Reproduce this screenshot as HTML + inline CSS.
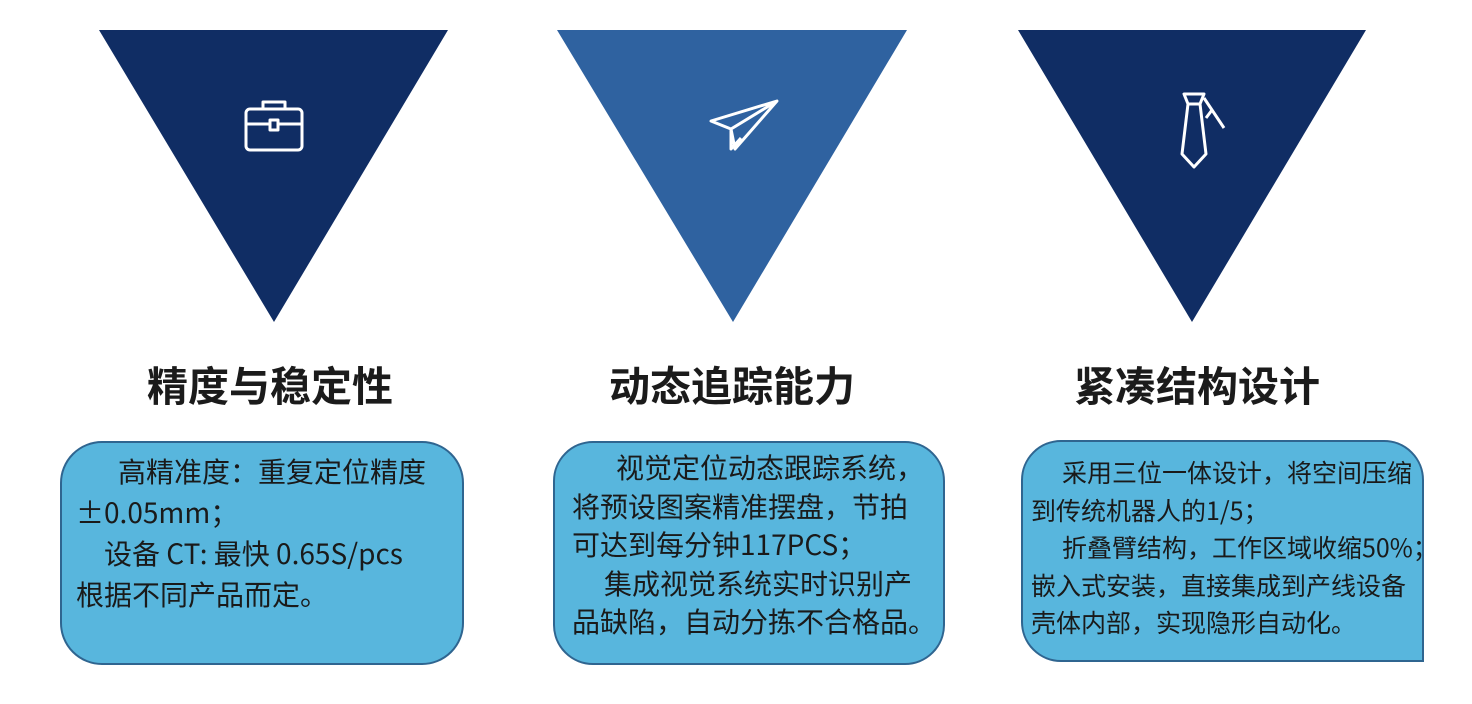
<!DOCTYPE html>
<html><head><meta charset="utf-8"><style>
body{margin:0;width:1472px;height:704px;background:#fff;position:relative;overflow:hidden;font-family:"Liberation Sans","Noto Sans CJK SC",sans-serif;}
.t{position:absolute;font-weight:bold;font-size:41px;line-height:50px;color:#1b1b1b;white-space:nowrap;font-family:"Noto Sans CJK SC",sans-serif}
.box{position:absolute;background:#58b6dd;border:2px solid #2f6590;box-sizing:border-box}
.l{position:absolute;white-space:nowrap;color:#1a1a1a;font-family:"Noto Sans CJK SC",sans-serif}
</style></head><body>
<svg width="1472" height="704" style="position:absolute;left:0;top:0">
<polygon points="99,30 448,30 274,322" fill="#102d64"/>
<polygon points="557,30 907,30 733,322" fill="#2f62a0"/>
<polygon points="1018,30 1366,30 1192,322" fill="#102d64"/>
<g fill="none" stroke="#fff" stroke-width="3" stroke-linejoin="round">
<rect x="246" y="109" width="56" height="41" rx="4"/>
<path d="M263 109v-7h22v7M246 124h56"/>
<rect x="270" y="120" width="8" height="10" fill="#102d64"/>
<path d="M711 121l66-20-42 48-4-20z M731 129l46-28 M731 129v20l10-11"/>
<path d="M1184 94h20l-4 10h-12z"/>
<path d="M1188 104l-6 50 12 13 12-13-6-50"/>
<path d="M1204 98l20 30 M1212 110l-6 8"/>
</g>
</svg>
<div class="t" style="left:147px;top:358px">精度与稳定性</div>
<div class="t" style="left:609px;top:358px">动态追踪能力</div>
<div class="t" style="left:1074px;top:358px">紧凑结构设计</div>

<div class="box" style="left:60px;top:441px;width:404px;height:224px;border-radius:42px"></div>
<div class="l" style="left:76px;top:451px;font-size:28px;line-height:41px"><span style="padding-left:42px">高精准度：重复定位精度</span><br>±0.05mm；<br><span style="padding-left:28px">设备 CT: 最快 0.65S/pcs</span><br>根据不同产品而定。</div>

<div class="box" style="left:553px;top:441px;width:392px;height:224px;border-radius:40px"></div>
<div class="l" style="left:572px;top:448px;font-size:28px;line-height:38.5px"><span style="padding-left:44px">视觉定位动态跟踪系统，</span><br>将预设图案精准摆盘，节拍<br>可达到每分钟117PCS；<br><span style="padding-left:32px">集成视觉系统实时识别产</span><br>品缺陷，自动分拣不合格品。</div>

<div class="box" style="left:1021px;top:440px;width:403px;height:222px;border-radius:40px 40px 0 40px"></div>
<div class="l" style="left:1031px;top:454px;font-size:25px;line-height:37.5px"><span style="padding-left:31px">采用三位一体设计，将空间压缩</span><br>到传统机器人的1/5；<br><span style="padding-left:31px">折叠臂结构，工作区域收缩50%；</span><br>嵌入式安装，直接集成到产线设备<br>壳体内部，实现隐形自动化。</div>
</body></html>
